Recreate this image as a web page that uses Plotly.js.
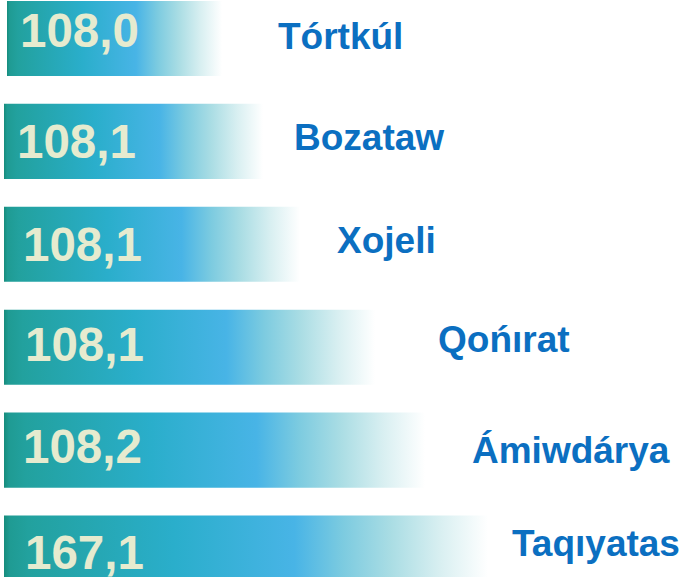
<!DOCTYPE html>
<html>
<head>
<meta charset="utf-8">
<script src="https://cdn.plot.ly/plotly-3.0.1.min.js"></script>
<style>
  html, body { margin: 0; padding: 0; background: #ffffff; }
  #chart { width: 680px; height: 577px; }
</style>
</head>
<body>
<div id="chart"></div>
<script>
// ---- data ----
const districts = ['Tórtkúl', 'Bozataw', 'Xojeli', 'Qońırat', 'Ámiwdárya', 'Taqıyatas'];
const values = [108.0, 108.1, 108.1, 108.1, 108.2, 167.1];
// drawn bar lengths (the infographic is not to scale)
const barLength = [215, 259, 296, 371, 421, 484];

// ---- presentation settings ----
const barStart = [7, 4, 4, 4, 4, 4];
const nameX = [276, 292, 335, 436, 470, 510];
const nameShift = [2, 4, 4, 8, 0, 10];
const valueX = [18, 15, 21, 23, 21, 23];
const valueShift = [8, 0, 0, 3, 4, 1];
const halfH = 0.365;

const gradient = [
  [0.0, '#168c7c'],
  [0.012, '#1f9b93'],
  [0.05, '#22a19e'],
  [0.35, '#2aaecb'],
  [0.6, '#48b4e6'],
  [0.7, '#7ccbe0'],
  [0.8, '#aadde4'],
  [0.9, '#d8eff1'],
  [1.0, '#ffffff']
];

const fmt = v => v.toFixed(1).replace('.', ',');

const traces = districts.map((d, i) => {
  const x0 = barStart[i], x1 = barStart[i] + barLength[i];
  return {
    type: 'scatter',
    mode: 'lines',
    x: [x0, x1, x1, x0, x0],
    y: [i - halfH, i - halfH, i + halfH, i + halfH, i - halfH],
    fill: 'toself',
    fillgradient: { type: 'horizontal', colorscale: gradient },
    line: { width: 0, color: 'rgba(0,0,0,0)' },
    hoverinfo: 'skip',
    showlegend: false
  };
});

const annotations = [];
districts.forEach((d, i) => {
  annotations.push({
    x: valueX[i], y: i, xref: 'x', yref: 'y',
    xanchor: 'left', yanchor: 'middle', yshift: valueShift[i],
    text: fmt(values[i]), showarrow: false,
    font: { family: 'Liberation Sans, Arial, sans-serif', size: 47.5, color: '#e6ebcf', weight: 'bold' }
  });
  annotations.push({
    x: nameX[i], y: i, xref: 'x', yref: 'y',
    xanchor: 'left', yanchor: 'middle', yshift: nameShift[i],
    text: d, showarrow: false,
    font: { family: 'Liberation Sans, Arial, sans-serif', size: 37, color: '#0b6fc1', weight: 'bold' }
  });
});

const layout = {
  width: 680, height: 577,
  margin: { l: 0, r: 0, t: 0, b: 0, pad: 0 },
  paper_bgcolor: '#ffffff', plot_bgcolor: '#ffffff',
  showlegend: false,
  hovermode: false,
  xaxis: { range: [0, 680], visible: false, fixedrange: true },
  yaxis: { range: [5.233, -0.374], visible: false, fixedrange: true },
  annotations: annotations
};

Plotly.newPlot('chart', traces, layout, { displayModeBar: false, staticPlot: true });
</script>
</body>
</html>
